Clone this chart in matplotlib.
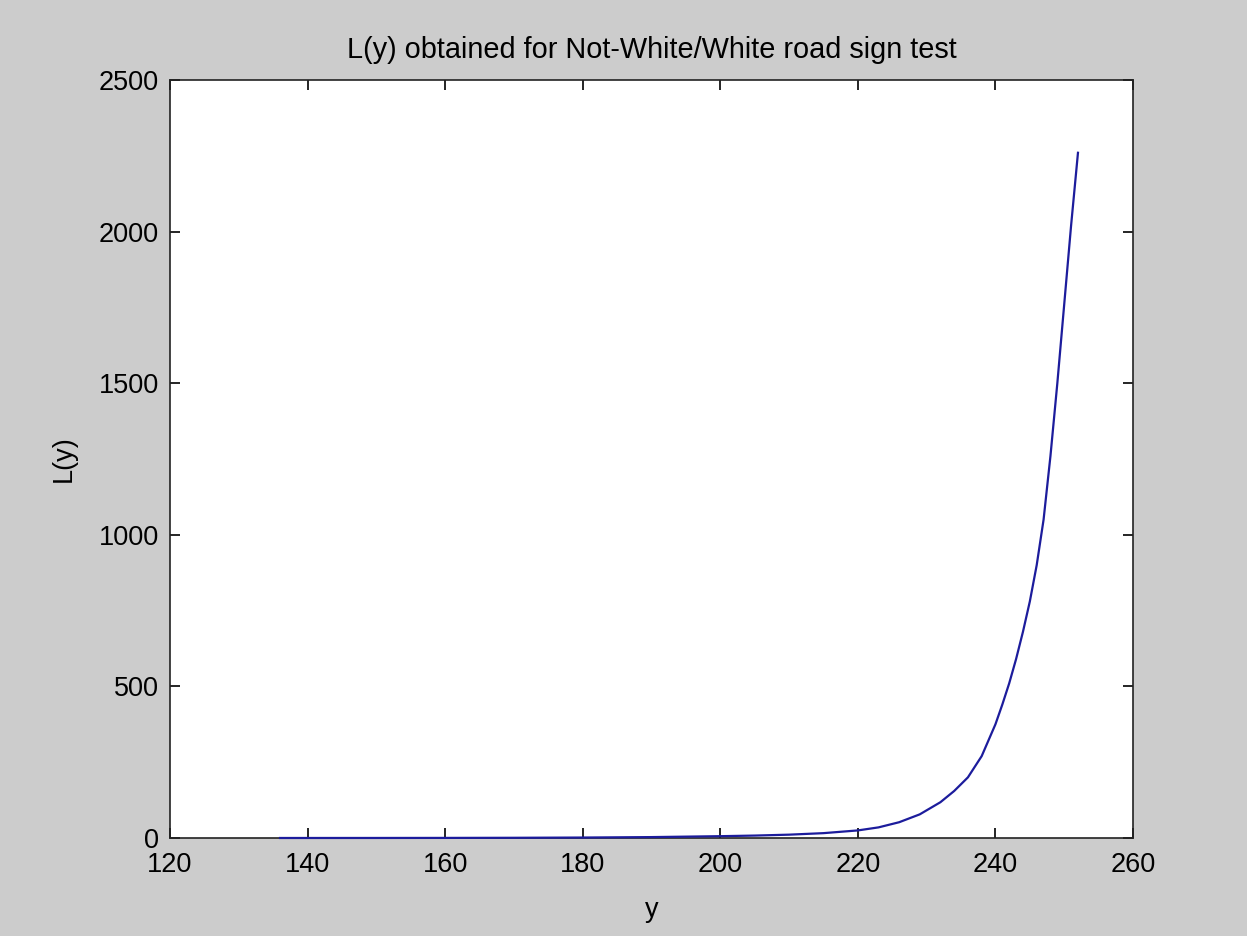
import matplotlib
matplotlib.use("Agg")
import matplotlib.pyplot as plt

# data
y_vals = [136, 140, 150, 160, 170, 180, 190, 200, 205, 210, 215, 220, 223, 226,
          229, 232, 234, 236, 238, 240, 241, 242, 243, 244, 245, 246, 247, 248,
          249, 250, 251, 252]
L_vals = [0.02, 0.05, 0.12, 0.3, 0.7, 1.5, 3, 6, 8, 11, 16, 25, 35, 52,
          78, 118, 155, 200, 270, 375, 440, 510, 590, 680, 780, 900, 1050, 1260,
          1500, 1760, 2020, 2260]

x_ticks = [120, 140, 160, 180, 200, 220, 240, 260]
y_ticks = [0, 500, 1000, 1500, 2000, 2500]

plt.rcParams['font.family'] = ['Liberation Sans', 'DejaVu Sans']

fig = plt.figure(figsize=(12.47, 9.36), dpi=100, facecolor='#cccccc')
ax = fig.add_axes([170/1247, 98/936, 963/1247, 758/936])
ax.set_facecolor('white')
ax.plot(y_vals, L_vals, color='#1c1c9c', lw=1.6, zorder=3, clip_on=False)
ax.set_xlim(120, 260)
ax.set_ylim(0, 2500)
ax.set_xticks(x_ticks)
ax.set_yticks(y_ticks)
ax.tick_params(direction='in', top=True, right=True, length=7.5, width=1.2,
               labelsize=19.5, colors='black', pad=8)
ax.tick_params(axis='x', pad=10)
for s in ax.spines.values():
    s.set_linewidth(1.2)
    s.set_color('#222222')
ax.set_xlabel('y', fontsize=19.5, labelpad=14)
ax.set_ylabel('L(y)', fontsize=19.5, labelpad=16)
ax.set_title('L(y) obtained for Not-White/White road sign test', fontsize=20.8, pad=16)

fig.savefig('out.png', dpi=100, facecolor=fig.get_facecolor())
